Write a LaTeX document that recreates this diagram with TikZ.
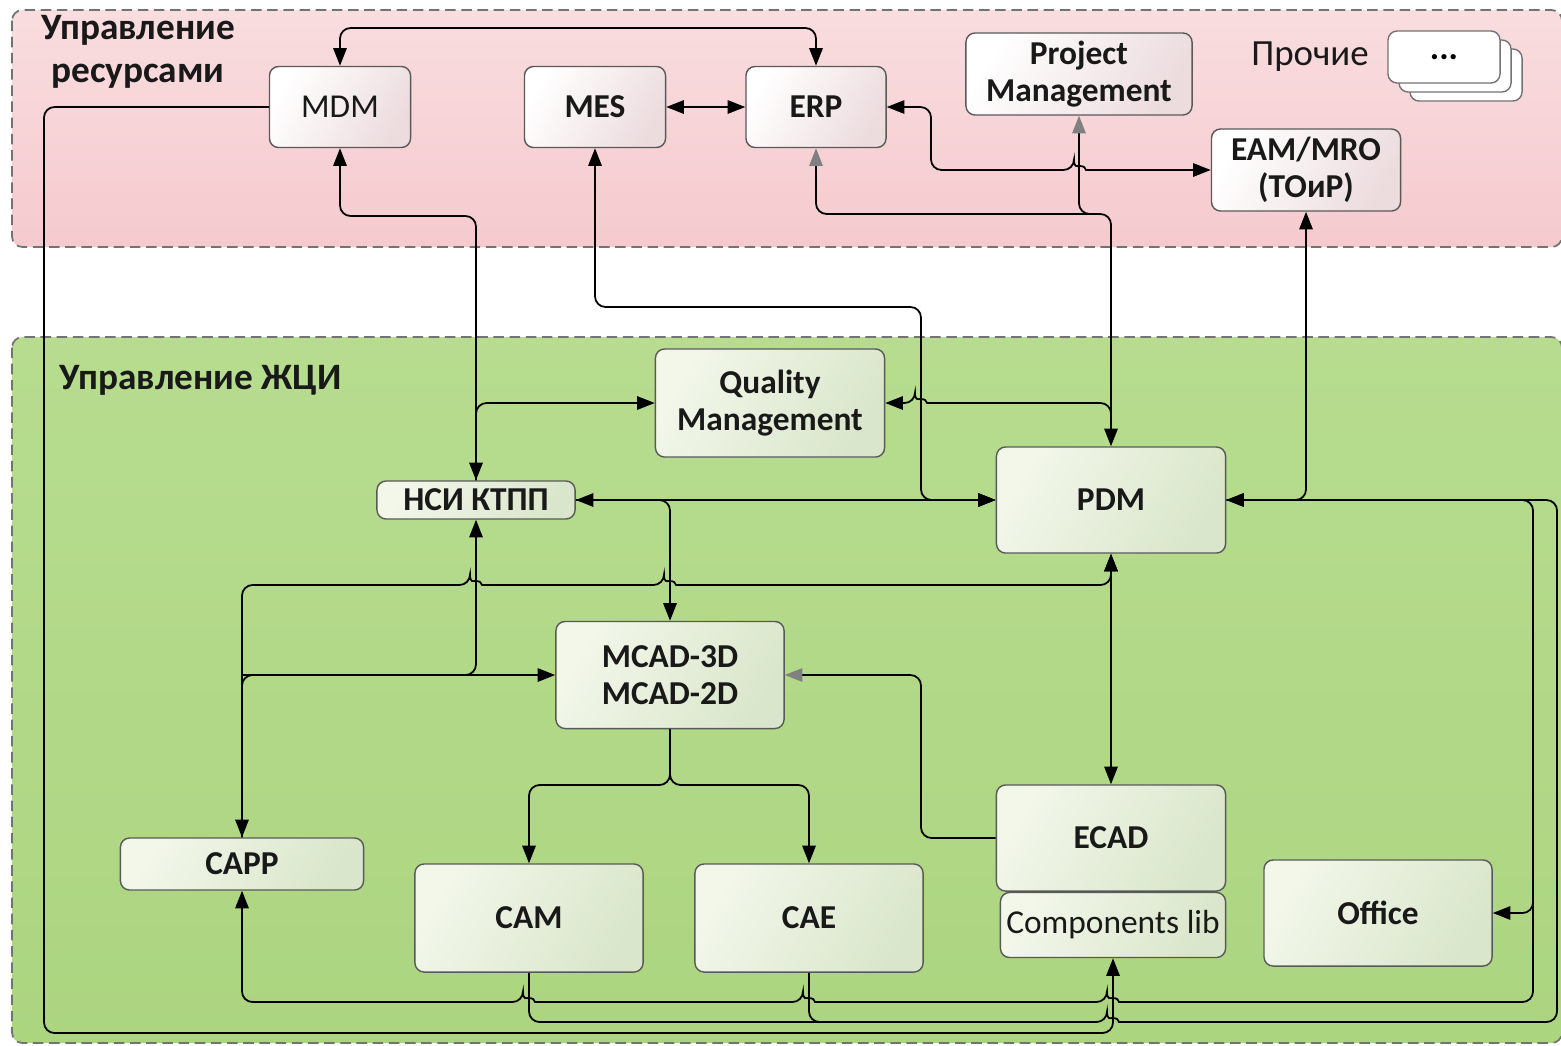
\documentclass[tikz,border=0pt]{standalone}
\usepackage{fontspec}
\setmainfont{Carlito}
\usetikzlibrary{arrows.meta, positioning}

\definecolor{zonered}{RGB}{249,221,223}
\definecolor{zoneredd}{RGB}{245,202,206}
\definecolor{zonegreen}{RGB}{183,220,143}
\definecolor{zonegreend}{RGB}{172,213,128}
\definecolor{boxred}{RGB}{236,220,222}
\definecolor{boxgreenl}{RGB}{242,247,234}
\definecolor{boxgreen}{RGB}{218,230,203}
\definecolor{ink}{RGB}{25,25,25}

% hop over a crossing line (path runs left to right)
\newcommand{\hop}[2]{-- (#1-6,#2) [sharp corners] arc[start angle=180,end angle=360,x radius=6,y radius=4] -- (#1+7,#2) [rounded corners=3pt]}

\tikzset{
  btip/.tip={Triangle[length=5pt,width=3.8pt]},
  gtip/.tip={Triangle[length=5pt,width=3.8pt,color=black!50]},
  zone/.style={draw=black!55, dash pattern=on 3pt off 1.6pt, rounded corners=3pt, line width=0.5pt},
  sys/.style={draw=black!65, rounded corners=2.6pt, align=center, inner sep=0pt, text=ink,
    font=\fontsize{9.5}{10.5}\selectfont\bfseries},
  sysr/.style={sys, top color=white, bottom color=boxred, shading angle=60},
  sysg/.style={sys, top color=boxgreenl, bottom color=boxgreen, shading angle=60},
  wire/.style={line width=0.5pt, rounded corners=3pt},
  title/.style={font=\fontsize{10.6}{12.2}\selectfont\bfseries, text=ink, align=center},
  dotsbox/.style={draw=black!55, fill=white, rounded corners=2.6pt, minimum width=1.12cm,
    minimum height=0.52cm, inner sep=0pt}
}

\begin{document}
\begin{tikzpicture}[x=0.01cm, y=-0.01cm]
  \useasboundingbox (0,0) rectangle (1561,1045);

  % zones
  \draw[zone, top color=zonered, bottom color=zoneredd] (12,10) rectangle (1562,247);
  \draw[zone, top color=zonegreen, bottom color=zonegreend] (12,337) rectangle (1562,1043);
  \node[title] (restitle) at (138,52) {Управление\\ресурсами};
  \node[title, anchor=west] (lctitle) at (47,380) {Управление ЖЦИ};
  \node[font=\fontsize{10.5}{12}\selectfont, text=ink] (other) at (1310,57) {Прочие};

  % resource systems
  \node[sysr, minimum width=1.41cm, minimum height=0.81cm, font=\fontsize{9.5}{10.5}\selectfont] (mdm) at (340,107) {MDM};
  \node[sysr, minimum width=1.41cm, minimum height=0.81cm] (mes) at (595,107) {MES};
  \node[sysr, minimum width=1.40cm, minimum height=0.81cm] (erp) at (816,107) {ERP};
  \node[sysr, minimum width=2.26cm, minimum height=0.82cm] (pm) at (1079,74) {Project\\Management};
  \node[sysr, minimum width=1.89cm, minimum height=0.82cm] (eam) at (1306,170) {EAM/MRO\\(ТОиР)};
  \foreach \dx/\dy in {22/18, 11/9}
    \node[dotsbox] at (1444+\dx,57+\dy) {};
  \node[dotsbox, font=\bfseries] (dots) at (1444,57) {...};

  % lifecycle systems
  \node[sysg, minimum width=2.29cm, minimum height=1.08cm] (qm) at (770,403) {Quality\\Management};
  \node[sysg, minimum width=1.98cm, minimum height=0.38cm] (nsi) at (476,500) {НСИ КТПП};
  \node[sysg, minimum width=2.29cm, minimum height=1.06cm] (pdm) at (1111,500) {PDM};
  \node[sysg, minimum width=2.28cm, minimum height=1.07cm] (mcad) at (670,675) {MCAD-3D\\MCAD-2D};
  \node[sysg, minimum width=2.43cm, minimum height=0.52cm] (capp) at (242,864) {CAPP};
  \node[sysg, minimum width=2.28cm, minimum height=1.08cm] (cam) at (529,918) {CAM};
  \node[sysg, minimum width=2.28cm, minimum height=1.08cm] (cae) at (809,918) {CAE};
  \node[sysg, minimum width=2.29cm, minimum height=1.06cm] (ecad) at (1111,838) {ECAD};
  \node[sysg, minimum width=2.25cm, minimum height=0.65cm, font=\fontsize{9.5}{10.5}\selectfont] (comp) at (1113,925) {Components lib};
  \node[sysg, minimum width=2.28cm, minimum height=1.06cm] (office) at (1378,913) {Office};

  % links in resources zone
  \draw[wire, btip-btip] (mdm.north) |- (600,28) -| (erp.north);
  \draw[wire, btip-btip] (mes) -- (erp);
  \draw[wire, btip-btip] (mdm.south) |- (400,216) -| (nsi.north);
  \draw[wire, btip-btip] (mes.south) |- (921,307) |- (pdm.west);
  \draw[wire, btip-btip] (erp.east) -| (931,170) \hop{1080}{170} -- (eam.west);
  \draw[wire, gtip-btip] (erp.south) |- (1000,214) -| (pdm.north);
  \draw[wire, gtip-] (pm.south) |- (1100,214);
  \draw[wire, -btip] (pdm.east) -| (eam.south);

  % links in lifecycle zone
  \draw[wire, -btip] (nsi.north) |- (qm.west);
  \draw[wire, btip-btip] (nsi.east) -- (pdm.west);
  \draw[wire, -btip] (nsi.east) -| (mcad.north);
  \draw[wire, btip-] (qm.east) \hop{921}{403} -| (1111,440);
  \draw[wire, btip-btip] (capp.north) -- (242,585) \hop{476}{585} \hop{670}{585} -| (pdm.south);
  \draw[wire, -btip] (capp.north) |- (mcad.west);
  \draw[wire, -btip] (capp.north |- mcad.west) -| (nsi.south);
  \draw[wire, btip-btip] (pdm.south) -- (ecad.north);
  \draw[wire, -gtip] (ecad.west) -| (921,675) -- (mcad.east);
  \draw[wire, -btip] (mcad.south) -- (670,785) -| (cam.north);
  \draw[wire, -btip] (mcad.south) -- (670,785) -| (cae.north);

  % bottom buses
  \draw[wire, btip-btip] (capp.south) -- (242,1002) \hop{529}{1002} \hop{809}{1002} \hop{1113}{1002} -- (1533,1002) -- (1533,500) -- (pdm.east);
  \draw[wire, -btip] (1533,880) |- (office.east);
  \draw[wire, -btip] (cam.south) -- (529,1022) \hop{1113}{1022} -- (1557,1022) -- (1557,500) -- (pdm.east);
  \draw[wire] (cae.south) |- (900,1022);
  \draw[wire, -btip] (mdm.west) -| (44,1033) -| (comp.south);
\end{tikzpicture}
\end{document}
